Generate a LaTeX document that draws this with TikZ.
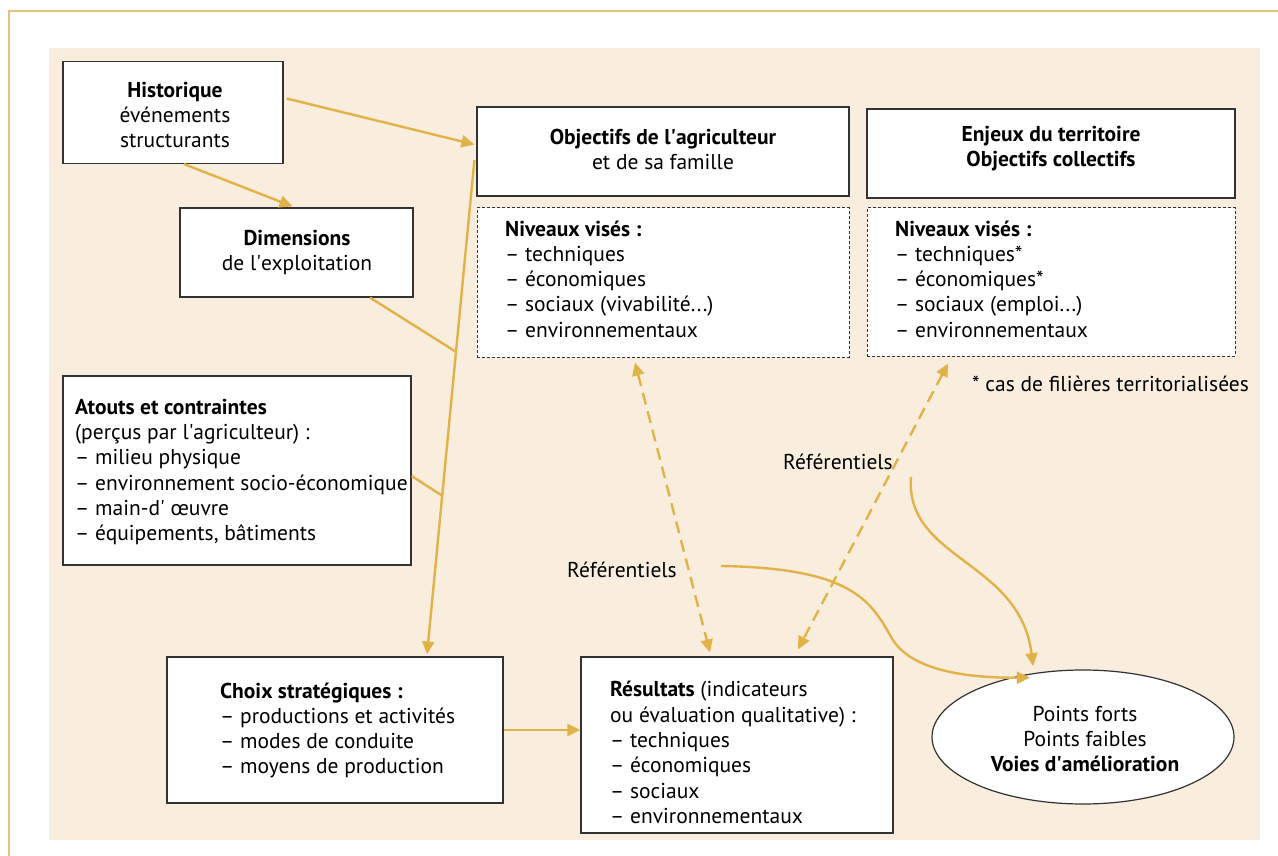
\documentclass[tikz,border=0pt]{standalone}
\usepackage{fontspec}
\setmainfont{PT Sans}
\usetikzlibrary{arrows.meta,shapes.geometric}
\definecolor{beige}{RGB}{249,237,221}
\definecolor{gold}{RGB}{224,178,72}
\definecolor{frame}{RGB}{226,196,128}
\definecolor{boxline}{RGB}{50,50,50}
\newcommand{\ap}{\textquotesingle}
\tikzset{
  box/.style={draw=boxline, line width=1.2pt, fill=white, inner sep=0pt},
  dbox/.style={draw=boxline, line width=1pt, fill=white, inner sep=0pt, dash pattern=on 3pt off 2pt},
  txt/.style={inner sep=0pt, font=\fontsize{21.5}{25.3}\selectfont},
  arr/.style={draw=gold, line width=2.4pt, -{Triangle[length=13pt,width=12pt]}},
  ln/.style={draw=gold, line width=2.4pt},
  darr/.style={draw=gold, line width=2.4pt, dash pattern=on 12pt off 7pt, {Triangle[length=13pt,width=12pt]}-{Triangle[length=13pt,width=12pt]}},
}
\begin{document}
\begin{tikzpicture}[x=1pt,y=-1pt]
\useasboundingbox (0,0) rectangle (1278,856);
\fill[white] (0,0) rectangle (1278,856);
\draw[frame, line width=1.4pt] (9,856) -- (9,11) -- (1278,11);
\fill[beige] (49,48) rectangle (1260,840);

% boxes
\node[box, minimum width=220pt, minimum height=102pt] (hist) at (173,112.5) {};
\node[txt, align=center] (histt) at (175,115) {\textbf{Historique}\\événements\\structurants};

\node[box, minimum width=233pt, minimum height=89pt] (dim) at (296.5,252.5) {};
\node[txt, align=center] (dimt) at (297,252.5) {\textbf{Dimensions}\\de l\ap exploitation};

\node[box, minimum width=372pt, minimum height=89pt] (obj) at (663,151.5) {};
\node[txt, align=center] (objt) at (663,149.5) {\textbf{Objectifs de l\ap agriculteur}\\et de sa famille};

\node[dbox, minimum width=372pt, minimum height=149pt] (niv1) at (663,282.5) {};
\node[txt, align=left, anchor=west] (niv1t) at (505,279) {\textbf{Niveaux visés :}\\– techniques\\– économiques\\– sociaux (vivabilité...)\\– environnementaux};

\node[box, minimum width=368pt, minimum height=89pt] (enj) at (1051,153.5) {};
\node[txt, align=center] (enjt) at (1051,148.5) {\textbf{Enjeux du territoire}\\\textbf{Objectifs collectifs}};

\node[dbox, minimum width=368pt, minimum height=148pt] (niv2) at (1051,282) {};
\node[txt, align=left, anchor=west] (niv2t) at (895,279) {\textbf{Niveaux visés :}\\– techniques*\\– économiques*\\– sociaux (emploi...)\\– environnementaux};

\node[txt, anchor=west] (note) at (972,384) {* cas de filières territorialisées};

\node[box, minimum width=348pt, minimum height=189pt] (atouts) at (237,470.5) {};
\node[txt, align=left, anchor=west] (atoutst) at (75,472) {\textbf{Atouts et contraintes}\\(perçus par l\ap agriculteur) :\\– milieu physique\\– environnement socio-économique\\– main-d\ap{} œuvre\\– équipements, bâtiments};

\node[box, minimum width=336pt, minimum height=146pt] (choix) at (335,730) {};
\node[txt, align=left, anchor=west] (choixt) at (220,730.5) {\textbf{Choix stratégiques :}\\– productions et activités\\– modes de conduite\\– moyens de production};

\node[box, minimum width=312pt, minimum height=176pt] (res) at (737,745) {};
\node[txt, align=left, anchor=west] (rest) at (610,752.5) {\textbf{Résultats} (indicateurs\\ou évaluation qualitative) :\\– techniques\\– économiques\\– sociaux\\– environnementaux};

\node[draw=boxline, line width=1.2pt, fill=white, ellipse, minimum width=302pt, minimum height=134pt, inner sep=0pt] (pts) at (1083,737) {};
\node[txt, align=center] (ptst) at (1085,739) {Points forts\\Points faibles\\\textbf{Voies d\ap amélioration}};

\node[txt] (ref1) at (622,570) {Référentiels};
\node[txt] (ref2) at (838,462) {Référentiels};

% connectors
\draw[arr] ([xshift=3pt,yshift=14pt]hist.east) -- ([xshift=-2pt,yshift=7pt]obj.west);
\draw[arr] ([xshift=11pt]hist.south) -- ([xshift=-4pt,yshift=1pt]dim.north);
\draw[arr] ([xshift=-2pt,yshift=-8.5pt]obj.west) -- coordinate[pos=0.388] (j1) coordinate[pos=0.679] (j2) ([xshift=92pt,yshift=2pt]choix.north);
\draw[ln] ([xshift=73.5pt]dim.south) -- (j1);
\draw[ln] ([yshift=-5.5pt]atouts.east) -- (j2);
\draw[arr] (choix.east) -- (choix.east -| res.west);
\draw[darr] ([xshift=-28pt,yshift=-5pt]niv1.south) -- ([xshift=-27pt,yshift=4pt]res.north);
\draw[darr] ([xshift=-103pt,yshift=-7pt]niv2.south) -- ([xshift=61pt,yshift=7pt]res.north);
\draw[arr] ([xshift=44pt,yshift=4pt]ref1.east) .. controls (850,568) and (870,600) .. (890,635) .. controls (905,665) and (950,678) .. ([yshift=-4pt]pts.130);
\draw[arr] ([xshift=18pt,yshift=-7pt]ref2.south east) .. controls (905,560) and (1020,560) .. ([yshift=7pt]pts.128);
\end{tikzpicture}
\end{document}
